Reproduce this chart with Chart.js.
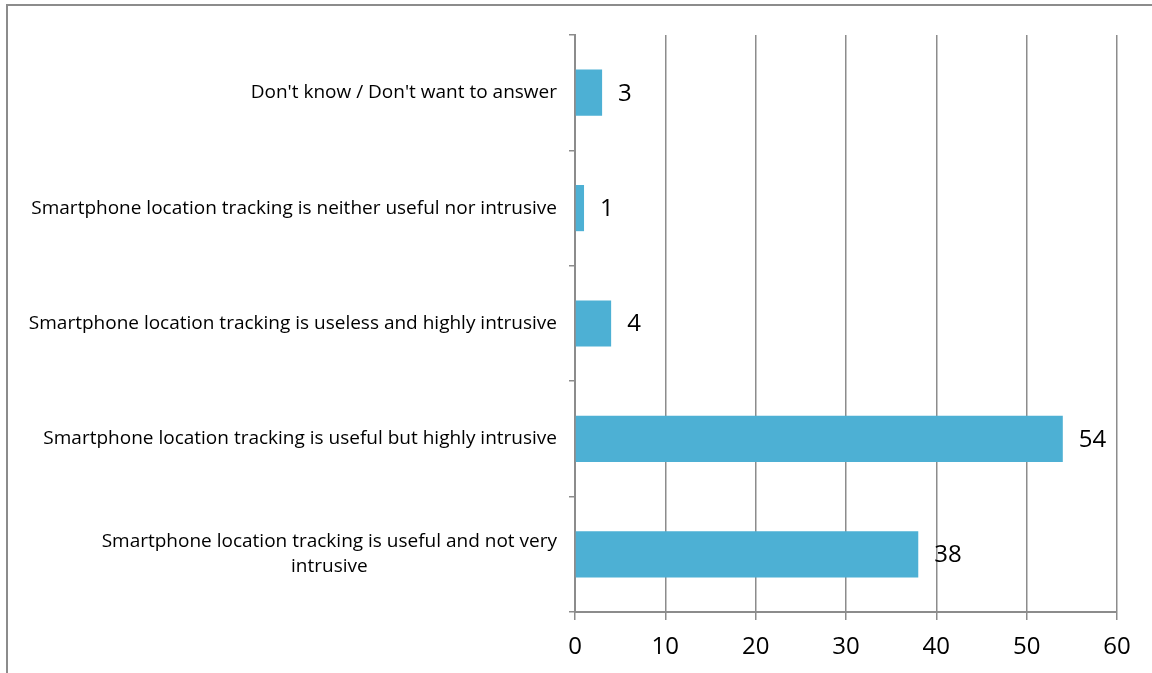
<!DOCTYPE html>
<html>
<head>
<meta charset="utf-8">
<script src="https://cdn.jsdelivr.net/npm/chart.js@4"></script>
<style>
  body { margin: 0; background: #fff; }
  canvas { display: block; }
</style>
</head>
<body>
<canvas id="surveyChart" width="1152" height="673"></canvas>
<script>
// answers, top to bottom; a nested array is a label broken over two lines
const answers = [
  "Don't know / Don't want to answer",
  "Smartphone location tracking is neither useful nor intrusive",
  "Smartphone location tracking is useless and highly intrusive",
  "Smartphone location tracking is useful but highly intrusive",
  ["Smartphone location tracking is useful and not very", "intrusive"]
];
const shares = [3, 1, 4, 54, 38];
const xTicks = [0, 10, 20, 30, 40, 50, 60];

const GREY = '#8c8c8c';
const BLUE = '#4db0d4';
const FONT = '"Open Sans", sans-serif';

// outer frame, only the top and left edges fall inside the canvas
const framePlugin = {
  id: 'frame',
  beforeDraw(chart) {
    const ctx = chart.ctx;
    ctx.save();
    ctx.strokeStyle = GREY;
    ctx.lineWidth = 2;
    ctx.beginPath();
    ctx.moveTo(7, chart.height);
    ctx.lineTo(7, 5);
    ctx.lineTo(chart.width, 5);
    ctx.stroke();
    ctx.restore();
  }
};

// value written just past the end of each bar
const valueLabels = {
  id: 'valueLabels',
  afterDatasetsDraw(chart) {
    const ctx = chart.ctx;
    const meta = chart.getDatasetMeta(0);
    ctx.save();
    ctx.font = '24px ' + FONT;
    ctx.fillStyle = '#000';
    ctx.textAlign = 'left';
    ctx.textBaseline = 'middle';
    meta.data.forEach((bar, i) => {
      ctx.fillText(String(shares[i]), bar.x + 16, bar.y + 1);
    });
    ctx.restore();
  }
};

// category labels: single lines right aligned, wrapped ones centred as a block
const categoryLabels = {
  id: 'categoryLabels',
  afterDraw(chart) {
    const ctx = chart.ctx;
    const y = chart.scales.y;
    const right = y.right - 18;
    const lineH = 25;
    ctx.save();
    ctx.font = '19px ' + FONT;
    ctx.fillStyle = '#000';
    ctx.textBaseline = 'middle';
    answers.forEach((label, i) => {
      const cy = y.getPixelForValue(i);
      if (Array.isArray(label)) {
        const widest = Math.max(...label.map(l => ctx.measureText(l).width));
        const cx = right - widest / 2;
        ctx.textAlign = 'center';
        label.forEach((line, k) => {
          ctx.fillText(line, cx, cy + (k - (label.length - 1) / 2) * lineH);
        });
      } else {
        ctx.textAlign = 'right';
        ctx.fillText(label, right, cy);
      }
    });
    ctx.restore();
  }
};

new Chart(document.getElementById('surveyChart'), {
  type: 'bar',
  data: {
    labels: answers,
    datasets: [{
      data: shares,
      backgroundColor: BLUE,
      borderWidth: 0,
      barPercentage: 0.4,
      categoryPercentage: 1
    }]
  },
  options: {
    indexAxis: 'y',
    responsive: false,
    animation: false,
    devicePixelRatio: 1,
    layout: { padding: { top: 35, right: 35, left: 0, bottom: 0 } },
    plugins: {
      legend: { display: false },
      tooltip: { enabled: false }
    },
    scales: {
      x: {
        min: xTicks[0],
        max: xTicks[xTicks.length - 1],
        afterBuildTicks(scale) {
          scale.ticks = xTicks.map(v => ({ value: v }));
        },
        afterFit(scale) { scale.height = 61; },
        border: { color: GREY, width: 2 },
        grid: {
          color: GREY,
          lineWidth: 1.5,
          drawTicks: true,
          tickLength: 8
        },
        ticks: {
          color: '#000',
          font: { family: FONT, size: 24 },
          padding: 13,
          maxRotation: 0
        }
      },
      y: {
        afterFit(scale) { scale.width = 575; },
        border: { color: GREY, width: 2 },
        grid: {
          offset: true,
          drawOnChartArea: false,
          drawTicks: true,
          tickLength: 6,
          color: GREY,
          lineWidth: 1.5
        },
        ticks: { display: false }
      }
    }
  },
  plugins: [framePlugin, valueLabels, categoryLabels]
});
</script>
</body>
</html>
